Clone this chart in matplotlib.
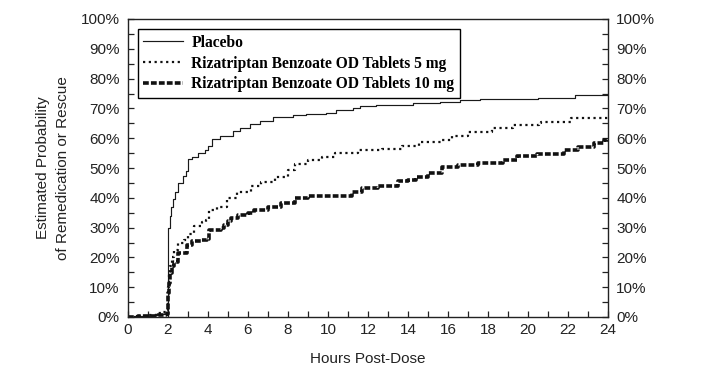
import matplotlib
matplotlib.use("Agg")
import matplotlib.pyplot as plt
from matplotlib.ticker import MultipleLocator, FuncFormatter

# ---- data (hours post-dose, estimated probability %) ----
placebo_t = [0, 0.6, 1.2, 1.6, 1.9, 2.0, 2.08, 2.17, 2.25, 2.35, 2.5, 2.75, 2.92, 3.02, 3.2, 3.5,
             3.85, 4.0, 4.18, 4.6, 5.25, 5.6, 6.1, 6.6, 7.25, 8.25, 8.9, 9.9, 10.4, 11.25, 11.6,
             12.4, 14.25, 15.6, 16.6, 17.6, 18.5, 20.5, 22.35, 24]
placebo_v = [0, 0.3, 0.7, 1.0, 1.5, 30, 34, 37, 39.5, 42, 45, 47.3, 49, 53, 53.8, 55,
             56.2, 57.5, 59.6, 60.8, 62.4, 63.5, 64.7, 65.8, 67, 67.7, 68.2, 68.6, 69.4, 70.2, 70.8,
             71.1, 71.9, 72.2, 72.7, 73, 73.2, 73.5, 74.4, 74.4]

riz5_t = [0, 0.5, 1.0, 1.4, 1.7, 1.9, 2.0, 2.05, 2.1, 2.18, 2.28, 2.5, 2.78, 3.02, 3.3, 3.72,
          3.88, 4.03, 4.47, 4.97, 5.47, 6.15, 6.65, 7.33, 8.0, 8.33, 9.0, 9.68, 10.35, 11.52,
          12.7, 13.7, 14.55, 15.7, 16.2, 17.0, 18.2, 19.25, 20.55, 20.65, 22.15, 24]
riz5_v = [0, 0.3, 0.8, 1.2, 1.8, 2.5, 10, 14, 17, 20, 22.5, 24.7, 25.8, 28, 30.4, 32,
          32.6, 35.8, 37, 39.8, 42, 43.8, 45.4, 47.1, 49.3, 51.5, 52.6, 53.7, 55, 56,
          56.5, 57.3, 58.8, 59.4, 60.7, 62.2, 63.5, 64.3, 65, 65.4, 66.8, 66.8]

riz10_t = [0, 0.5, 1.0, 1.5, 1.9, 2.0, 2.05, 2.1, 2.18, 2.28, 2.52, 2.95, 3.2, 3.63, 3.96, 4.03,
           4.63, 4.8, 5.0, 5.15, 5.48, 5.98, 6.32, 6.98, 7.66, 8.33, 9.0, 10.5, 11.2, 11.7, 12.5,
           13.5, 14.0, 14.4, 15.0, 15.7, 16.5, 17.5, 18.75, 19.45, 20.45, 21.8, 22.5, 23.3, 23.8, 24]
riz10_v = [0, 0.2, 0.4, 0.6, 1.0, 8, 11.5, 14.6, 17, 18.6, 21.4, 24.2, 25.4, 25.7, 26.2, 29.3,
           29.9, 31, 32.2, 33.2, 34.3, 34.9, 36, 36.9, 38.3, 39.9, 40.5, 40.5, 42.1, 43.3, 44,
           45.5, 46, 47.1, 48.3, 50.5, 51, 51.8, 52.7, 54, 54.8, 56, 57.2, 58.5, 59.3, 60]

labels = ["Placebo", "Rizatriptan Benzoate OD Tablets 5 mg", "Rizatriptan Benzoate OD Tablets 10 mg"]
x_ticks = list(range(0, 25, 2))
y_ticks = list(range(0, 101, 10))

# ---- figure ----
fig = plt.figure(figsize=(7.26, 3.80), dpi=100)
ax = fig.add_axes([128 / 726, 1 - 317 / 380, 480 / 726, 298 / 380])

tick_font = "Liberation Sans"
ax.plot(placebo_t, placebo_v, drawstyle="steps-post", color="#1a1a1a", lw=0.85,
        label=labels[0])
ax.plot(riz5_t, riz5_v, drawstyle="steps-post", color="#111111", lw=1.6,
        linestyle=(0, (1, 1.6)), label=labels[1])
ax.plot(riz10_t, riz10_v, drawstyle="steps-post", color="#111111", lw=2.6,
        linestyle=(0, (1.6, 0.6)), label=labels[2])

ax.set_xlim(0, 24)
ax.set_ylim(0, 100)
ax.set_xticks(x_ticks)
ax.set_yticks(y_ticks)
ax.xaxis.set_minor_locator(MultipleLocator(1))
ax.yaxis.set_minor_locator(MultipleLocator(5))
pct = FuncFormatter(lambda v, p: f"{int(v)}%")
ax.yaxis.set_major_formatter(pct)
ax.tick_params(which="both", direction="in", length=4, width=0.9, color="#222222",
               labelsize=11, labelcolor="#222222", right=True, labelright=True, top=False)
ax.tick_params(axis="y", which="both", pad=6)
ax.tick_params(axis="x", which="both", pad=4)
for lab in ax.get_xticklabels() + ax.get_yticklabels():
    lab.set_fontfamily(tick_font)
for s in ax.spines.values():
    s.set_linewidth(1.0)
    s.set_color("#222222")

ax.set_xlabel("Hours Post-Dose", fontfamily=tick_font, fontsize=11, color="#222222", labelpad=11)
ax.set_ylabel("Estimated Probability\nof Remedication or Rescue", fontfamily=tick_font,
              fontsize=11, color="#222222", labelpad=8, linespacing=1.5)

leg = ax.legend(loc="upper left", bbox_to_anchor=(0.02, 0.965), frameon=True, fancybox=False,
                edgecolor="black", framealpha=1, handlelength=2.6, handletextpad=0.5,
                borderpad=0.35, labelspacing=0.3, borderaxespad=0,
                prop={"family": "Liberation Serif", "weight": "bold", "size": 11.2})
leg.get_frame().set_linewidth(1.0)

fig.savefig("out.png", dpi=100)
